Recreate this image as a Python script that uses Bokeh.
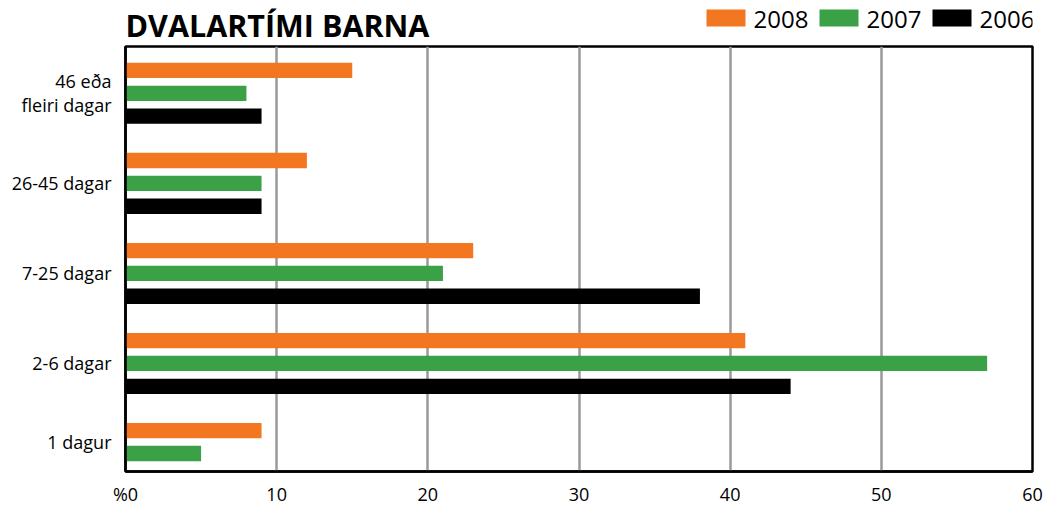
from bokeh.plotting import figure
from bokeh.models import Range1d, FixedTicker
from bokeh.layouts import column
from bokeh.core.properties import value
from bokeh.embed import file_html
from bokeh.resources import INLINE

# ---- data ----
categories = ["1 dagur", "2-6 dagar", "7-25 dagar", "26-45 dagar", "46 eða\nfleiri dagar"]
years = ["2008", "2007", "2006"]
v2008 = [9, 41, 23, 12, 15]
v2007 = [5, 57, 21, 9, 8]
v2006 = [0, 44, 38, 9, 9]
x_ticks = [0, 10, 20, 30, 40, 50, 60]
x_tick_labels = ["%0", "10", "20", "30", "40", "50", "60"]
title_text = "DVALARTÍMI BARNA"

colors = ["#F37721", "#3BA147", "#000000"]
series = [v2008, v2007, v2006]
offsets = [0.254, 0.0, -0.254]
pos = list(range(len(categories)))

FONT = "Open Sans"
W = 1044
H = 509
HEADER_H = 44
BORDER_L = 125
BORDER_R = 12
FRAME_W = W - BORDER_L - BORDER_R

# ---------- header: title and legend (pixel-like coordinates, y downwards) ----------
h = figure(width=W, height=HEADER_H, output_backend="svg", toolbar_location=None,
           title=None, x_range=Range1d(0, FRAME_W), y_range=Range1d(HEADER_H, 0),
           x_axis_type=None, y_axis_type=None, min_border=0,
           min_border_left=BORDER_L, min_border_right=BORDER_R,
           min_border_top=0, min_border_bottom=0)
h.outline_line_color = None
h.grid.grid_line_color = None

h.text(x=[0], y=[24], text=[title_text], text_font=value(FONT), text_font_style="bold",
       text_font_size=value("30.5px"), text_color="black", text_baseline="alphabetic",
       text_align="left")

key_left = [581, 694, 807]   # legend layout (swatch positions in the header)
key_w = 39
h.quad(left=key_left, right=[k + key_w for k in key_left], top=9, bottom=26,
       fill_color=colors, line_color=None)
h.text(x=[k + key_w + 8 for k in key_left], y=18.5, text=years, text_font=value(FONT),
       text_font_size=value("24px"), text_color="black", text_baseline="alphabetic",
       text_align="left")

# ---------- main chart ----------
p = figure(width=W, height=H - HEADER_H, output_backend="svg", toolbar_location=None,
           x_range=Range1d(0, 60), y_range=Range1d(-0.2, 4.52),
           min_border_left=BORDER_L, min_border_right=BORDER_R,
           min_border_top=2, min_border_bottom=38)

for vals, col, off in zip(series, colors, offsets):
    p.hbar(y=[q + off for q in pos], left=0, right=vals, height=0.17,
           fill_color=col, line_color=None)

# tick label centred on the visible bars of each category
tick_pos = []
for i in pos:
    ys = [i + off for vals, off in zip(series, offsets) if vals[i] > 0]
    tick_pos.append(sum(ys) / len(ys))

p.yaxis.ticker = FixedTicker(ticks=tick_pos)
p.yaxis.major_label_overrides = {t: c for t, c in zip(tick_pos, categories)}
p.xaxis.ticker = FixedTicker(ticks=x_ticks)
p.xaxis.major_label_overrides = {t: l for t, l in zip(x_ticks, x_tick_labels)}

for ax in (p.xaxis[0], p.yaxis[0]):
    ax.major_tick_line_color = None
    ax.minor_tick_line_color = None
    ax.axis_line_color = "black"
    ax.axis_line_width = 2.5
    ax.major_label_text_font = FONT
    ax.major_label_text_font_size = "18px"
    ax.major_label_text_color = "black"
    ax.major_label_text_line_height = 1.0
p.xaxis.major_label_standoff = 4
p.yaxis.major_label_standoff = 8

p.xgrid.ticker = FixedTicker(ticks=x_ticks[1:-1])
p.xgrid.grid_line_color = "#9A9A9A"
p.xgrid.grid_line_width = 2.5
p.ygrid.grid_line_color = None

p.outline_line_color = "black"
p.outline_line_width = 2.5
p.outline_line_alpha = 1.0

layout = column(h, p, spacing=0)
open("out.html", "w").write(file_html(layout, INLINE))
